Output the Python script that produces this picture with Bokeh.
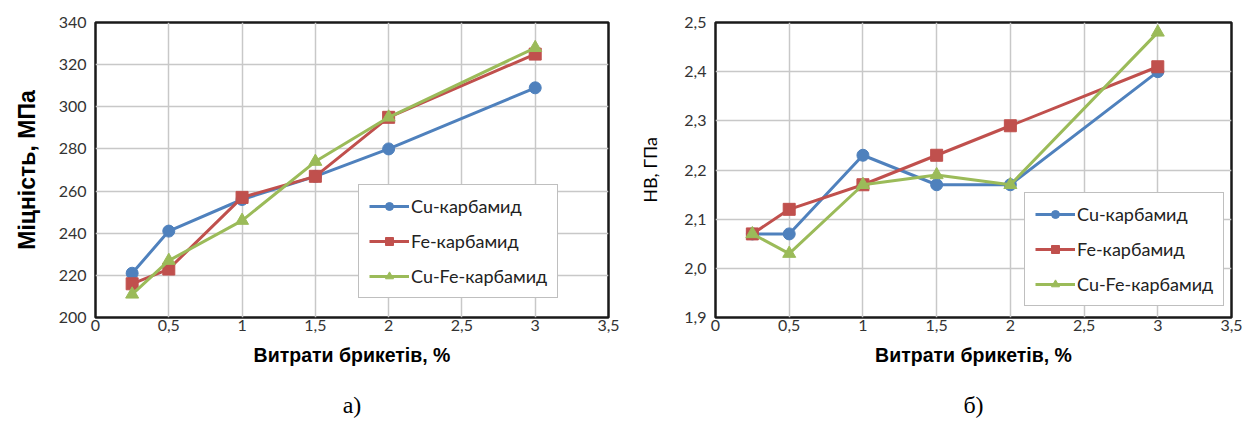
from bokeh.plotting import figure
from bokeh.models import Range1d, FixedTicker, CustomJSTickFormatter, LinearAxis
from bokeh.layouts import row
from bokeh.embed import file_html
from bokeh.resources import INLINE

# ---- data ----
x_vals = [0.25, 0.5, 1, 1.5, 2, 3]
strength_cu = [221, 241, 256, 267, 280, 309]
strength_fe = [216, 223, 257, 267, 295, 325]
strength_cufe = [211, 227, 246, 274, 295, 328]
hb_cu = [2.07, 2.07, 2.23, 2.17, 2.17, 2.40]
hb_fe = [2.07, 2.12, 2.17, 2.23, 2.29, 2.41]
hb_cufe = [2.07, 2.03, 2.17, 2.19, 2.17, 2.48]
series_names = ["Cu-карбамид", "Fe-карбамид", "Cu-Fe-карбамид"]
x_ticks = [0, 0.5, 1, 1.5, 2, 2.5, 3, 3.5]
y_ticks_strength = [200, 220, 240, 260, 280, 300, 320, 340]
y_ticks_hb = [1.9, 2.0, 2.1, 2.2, 2.3, 2.4, 2.5]
x_title = "Витрати брикетів, %"
y_title_strength = "Міцність, МПа"
y_title_hb = "HB, ГПа"
captions = ["а)", "б)"]

colors = ["#4F81BD", "#C0504D", "#9BBB59"]
markers = ["circle", "square", "triangle"]
msizes = [12, 12, 13]

TICK_FONT = "Lato"
FIG_H = 420


def make_panel(width, bl, br, yr, yticks, ycode, ytitle, ytitle_style, ytitle_font,
               ytitle_size, ylab_standoff, ydata, caption, legend_loc):
    p = figure(width=width, height=FIG_H, output_backend="svg", toolbar_location=None,
               x_range=Range1d(0, 3.5), y_range=Range1d(*yr),
               min_border_left=bl, min_border_right=br, min_border_top=22,
               min_border_bottom=103)
    p.background_fill_color = "white"
    p.border_fill_color = "white"
    p.outline_line_color = "#1a1a1a"
    p.outline_line_width = 2.5

    p.xaxis.ticker = FixedTicker(ticks=x_ticks)
    p.yaxis.ticker = FixedTicker(ticks=yticks)
    p.xaxis.formatter = CustomJSTickFormatter(code="return String(tick).replace('.', ',');")
    p.yaxis.formatter = CustomJSTickFormatter(code=ycode)
    for ax in (p.xaxis, p.yaxis):
        ax.axis_line_color = None
        ax.major_tick_line_color = None
        ax.minor_tick_line_color = None
        ax.major_tick_out = 0
        ax.major_tick_in = 0
        ax.minor_tick_out = 0
        ax.minor_tick_in = 0
        ax.major_label_text_font = TICK_FONT
        ax.major_label_text_font_size = "16px"
        ax.major_label_text_color = "#333333"
        ax.axis_label_text_color = "black"
    p.xaxis.major_label_standoff = 2
    p.yaxis.major_label_standoff = 9
    p.xaxis.axis_label = x_title
    p.xaxis.axis_label_text_font = "Liberation Sans"
    p.xaxis.axis_label_text_font_style = "bold"
    p.xaxis.axis_label_text_font_size = "19.5px"
    p.xaxis.axis_label_standoff = 10
    p.yaxis.axis_label = ytitle
    p.yaxis.axis_label_text_font = ytitle_font
    p.yaxis.axis_label_text_font_style = ytitle_style
    p.yaxis.axis_label_text_font_size = ytitle_size
    p.yaxis.axis_label_standoff = ylab_standoff

    p.grid.grid_line_color = "#C8C8C8"
    p.grid.grid_line_width = 1.5

    for name, ys, c, m, s in zip(series_names, ydata, colors, markers, msizes):
        p.line(x_vals, ys, line_color=c, line_width=3, legend_label=name)
        p.scatter(x_vals, ys, marker=m, size=s, fill_color=c, line_color=c,
                  legend_label=name)

    lg = p.legend[0]
    lg.location = legend_loc
    lg.border_line_color = "#7f7f7f"
    lg.border_line_width = 1.5
    lg.background_fill_color = "white"
    lg.background_fill_alpha = 1
    lg.label_text_font = TICK_FONT
    lg.label_text_font_size = "18px"
    lg.label_text_color = "#222222"
    lg.glyph_width = 40
    lg.glyph_height = 20
    lg.label_height = 20
    lg.label_standoff = 2
    lg.spacing = 13
    lg.padding = 10
    lg.margin = 0

    # caption below the axis title, as the label of a bare extra axis
    cap_axis = LinearAxis(ticker=FixedTicker(ticks=[]), axis_label=caption,
                          axis_line_color=None, major_tick_line_color=None,
                          minor_tick_line_color=None, major_tick_out=0, major_tick_in=0,
                          minor_tick_out=0, minor_tick_in=0, major_label_standoff=0,
                          axis_label_standoff=23,
                          axis_label_text_font="Liberation Serif",
                          axis_label_text_font_style="normal",
                          axis_label_text_font_size="24px",
                          axis_label_text_color="black")
    p.add_layout(cap_axis, "below")
    return p


p1 = make_panel(623, 95, 15, (200, 340), y_ticks_strength,
                "return tick.toFixed(0);", y_title_strength, "bold", "Liberation Sans",
                "23px", 16,
                [strength_cu, strength_fe, strength_cufe], captions[0], (263, 19))
p2 = make_panel(622, 92, 14, (1.9, 2.5), y_ticks_hb,
                "return tick.toFixed(1).replace('.', ',');", y_title_hb, "normal", "Lato",
                "18px", 20,
                [hb_cu, hb_fe, hb_cufe], captions[1], (309, 11))

layout = row(p1, p2)
open("out.html", "w").write(file_html(layout, INLINE))
